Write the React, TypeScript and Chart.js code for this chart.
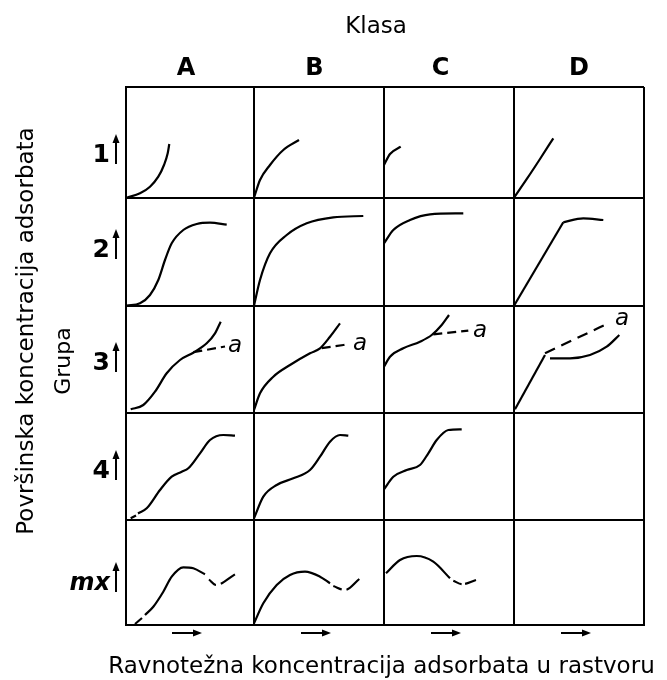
import { useEffect, useRef } from "react";
import { Chart, registerables } from "chart.js";

Chart.register(...registerables);

// ---- text ----
const CLASSES = ["A", "B", "C", "D"];
const GROUPS = ["1", "2", "3", "4", "mx"];
const TITLE_TOP = "Klasa";
const TITLE_LEFT = "Površinska koncentracija adsorbata";
const TITLE_GROUP = "Grupa";
const TITLE_BOTTOM = "Ravnotežna koncentracija adsorbata u rastvoru";
const BRANCH_LABEL = "a";

// ---- grid (axis units, 1 unit ~ 1 px) ----
const COL_EDGES = [0, 128, 258, 388, 518];
const ROW_EDGES = [0, 105, 211.5, 318.5, 426.5, 537.5]; // bottom -> top

// ---- curves, local coordinates inside each cell (dx from cell left, dy from cell bottom) ----
const c1A = [[0.7, 0.3], [14, 4.7], [24, 11.3], [32.3, 21.3], [38, 33], [41.7, 44.7], [43.3, 54]];
const c1B = [[0, 0.3], [6, 18], [16, 33], [29.3, 48], [45, 58]];
const c1C = [[0, 33], [6, 44], [16.7, 51.3]];
const c1D = [[0, 0.3], [13, 19.3], [26, 39], [39.3, 59.7]];

const c2A = [[0.7, 0.3], [14, 2.7], [24, 11], [32.3, 26], [39, 46], [45.7, 62.7], [57.3, 76], [70.7, 82], [84, 83.3], [100.7, 81.3]];
const c2B = [[0, 0.3], [6, 26], [16, 52.7], [32.7, 71], [52.7, 82.7], [79.3, 88.7], [109.3, 90]];
const c2C = [[0, 62.7], [9.3, 76], [26, 86], [46, 91.7], [79.3, 92.7]];
const c2Dline = [[0, 0.3], [49.3, 83.7]];
const c2Dtop = [[49.3, 83.7], [69.3, 87.7], [89.3, 86]];

const c3A = [[4.7, 3.7], [17.3, 8], [29, 21.3], [40.7, 39.7], [54, 53], [67.3, 60.3], [80.7, 69.7], [89, 79.7], [94.7, 91.3]];
const c3Aa = [[67.3, 60.8], [99, 66.5]];
const c3B = [[0, 3], [6, 19.7], [19.3, 36.3], [36, 48], [56, 59.7], [66, 64.7], [76, 76.3], [86, 89.7]];
const c3Ba = [[67.7, 64.9], [94.3, 68.7]];
const c3C = [[0, 46.3], [6, 56.3], [19.3, 64.7], [36, 71.3], [47.7, 78], [57.7, 88], [65, 98]];
const c3Ca = [[49.3, 78.7], [84.3, 82.3]];
const c3Dline = [[1, 3.7], [31, 58]];
const c3Dcurve = [[36, 54.7], [56, 54.7], [76, 58], [92.7, 66.3], [105.3, 78]];
const c3Da = [[31, 59.7], [92.7, 89]];

const c4Adash = [[4.7, 1.2], [10, 4]];
const c4A = [[12, 6], [20.7, 11.2], [34, 29.5], [45.7, 42.8], [55.7, 47.8], [62.3, 51.2], [74, 66.2], [84, 79.5], [97.3, 84.5], [109, 83.8]];
const c4B = [[0, 1.2], [9.3, 22.8], [22.7, 34.5], [39.3, 41.2], [56, 49.5], [66, 62.8], [76, 77.8], [86, 84.5], [94.3, 83.8]];
const c4C = [[0, 30.2], [9.3, 42.8], [22.7, 49.5], [36, 54.5], [44.3, 66.2], [52.7, 79.5], [64.3, 89.5], [77.7, 90.2]];

const cmAdash = [[9, 0.5], [16, 6.5]];
const cmA = [[19, 9.5], [27.3, 17.8], [37.3, 32.8], [45.7, 47.8], [57.3, 57.2], [67.3, 56.2], [79, 50.2]];
const cmAtail = [[83, 45], [90, 39.5], [109, 50.2]];
const cmB = [[0, 1.2], [9.3, 21.2], [22.7, 39.5], [36, 49.5], [51, 52.8], [66, 47.8], [76, 41.2]];
const cmBtail = [[79.3, 38.5], [91, 34.5], [105.3, 45.5]];
const cmC = [[2, 51.2], [16, 64.5], [32.7, 68.5], [49.3, 62.8], [66, 46.2]];
const cmCtail = [[69.3, 43.8], [78, 40.3], [92, 44.5]];

// positions of the "a" labels (local to cell)
const A_LABELS = [
  { col: 0, row: 2, at: [102, 61] },
  { col: 1, row: 2, at: [99, 63] },
  { col: 2, row: 2, at: [89, 76] },
  { col: 3, row: 2, at: [101, 88] },
];

type Curve = { col: number; row: number; pts: number[][]; kind: "smooth" | "straight" | "dash" | "tail"; dash?: number[] };

const CURVES: Curve[] = [
  { col: 0, row: 0, pts: c1A, kind: "smooth" },
  { col: 1, row: 0, pts: c1B, kind: "smooth" },
  { col: 2, row: 0, pts: c1C, kind: "smooth" },
  { col: 3, row: 0, pts: c1D, kind: "smooth" },
  { col: 0, row: 1, pts: c2A, kind: "smooth" },
  { col: 1, row: 1, pts: c2B, kind: "smooth" },
  { col: 2, row: 1, pts: c2C, kind: "smooth" },
  { col: 3, row: 1, pts: c2Dline, kind: "straight" },
  { col: 3, row: 1, pts: c2Dtop, kind: "smooth" },
  { col: 0, row: 2, pts: c3A, kind: "smooth" },
  { col: 0, row: 2, pts: c3Aa, kind: "dash", dash: [9, 5] },
  { col: 1, row: 2, pts: c3B, kind: "smooth" },
  { col: 1, row: 2, pts: c3Ba, kind: "dash", dash: [9, 5] },
  { col: 2, row: 2, pts: c3C, kind: "smooth" },
  { col: 2, row: 2, pts: c3Ca, kind: "dash", dash: [9, 5] },
  { col: 3, row: 2, pts: c3Dline, kind: "straight" },
  { col: 3, row: 2, pts: c3Dcurve, kind: "smooth" },
  { col: 3, row: 2, pts: c3Da, kind: "dash", dash: [11, 7] },
  { col: 0, row: 3, pts: c4Adash, kind: "straight" },
  { col: 0, row: 3, pts: c4A, kind: "smooth" },
  { col: 1, row: 3, pts: c4B, kind: "smooth" },
  { col: 2, row: 3, pts: c4C, kind: "smooth" },
  { col: 0, row: 4, pts: cmAdash, kind: "straight" },
  { col: 0, row: 4, pts: cmA, kind: "smooth" },
  { col: 0, row: 4, pts: cmAtail, kind: "tail", dash: [9, 5, 17, 100] },
  { col: 1, row: 4, pts: cmB, kind: "smooth" },
  { col: 1, row: 4, pts: cmBtail, kind: "tail", dash: [9, 5, 17, 100] },
  { col: 2, row: 4, pts: cmC, kind: "smooth" },
  { col: 2, row: 4, pts: cmCtail, kind: "tail", dash: [9, 3.5, 12, 100] },
];

const cellPoint = (col: number, row: number, p: number[]) => ({
  x: COL_EDGES[col] + p[0],
  y: ROW_EDGES[4 - row] + p[1],
});

const FONT = '"DejaVu Sans", Verdana, sans-serif';
const INK = "#000";

function arrowUp(ctx: CanvasRenderingContext2D, x: number, yb: number, len: number) {
  const yt = yb - len;
  ctx.lineWidth = 2;
  ctx.beginPath();
  ctx.moveTo(x, yb);
  ctx.lineTo(x, yt + 6);
  ctx.stroke();
  ctx.beginPath();
  ctx.moveTo(x, yt);
  ctx.lineTo(x - 3.5, yt + 9);
  ctx.lineTo(x + 3.5, yt + 9);
  ctx.closePath();
  ctx.fill();
}

function arrowRight(ctx: CanvasRenderingContext2D, xl: number, y: number, len: number) {
  const xr = xl + len;
  ctx.lineWidth = 2;
  ctx.beginPath();
  ctx.moveTo(xl, y);
  ctx.lineTo(xr - 6, y);
  ctx.stroke();
  ctx.beginPath();
  ctx.moveTo(xr, y);
  ctx.lineTo(xr - 9, y - 3.5);
  ctx.lineTo(xr - 9, y + 3.5);
  ctx.closePath();
  ctx.fill();
}

const annotations = {
  id: "annotations",
  afterDraw(chart: any) {
    const { ctx } = chart;
    const xs = chart.scales.x;
    const ys = chart.scales.y;
    ctx.save();
    ctx.fillStyle = INK;
    ctx.strokeStyle = INK;
    ctx.textBaseline = "alphabetic";

    // top title
    ctx.font = `23px ${FONT}`;
    ctx.textAlign = "center";
    ctx.fillText(TITLE_TOP, 376, 33);

    // class letters
    const classDx = [-4, -4.5, -8.5, 0];
    ctx.font = `bold 24px ${FONT}`;
    CLASSES.forEach((c, i) => {
      const cx = (xs.getPixelForValue(COL_EDGES[i]) + xs.getPixelForValue(COL_EDGES[i + 1])) / 2;
      ctx.fillText(c, cx + classDx[i], 75);
    });

    // bottom title
    ctx.font = `23px ${FONT}`;
    ctx.fillText(TITLE_BOTTOM, 381.5, 673);

    // bottom arrows
    for (let i = 0; i < 4; i++) {
      const cx = (xs.getPixelForValue(COL_EDGES[i]) + xs.getPixelForValue(COL_EDGES[i + 1])) / 2;
      arrowRight(ctx, cx - 18, 633, 30);
    }

    // left rotated titles
    ctx.save();
    ctx.translate(33, 331);
    ctx.rotate(-Math.PI / 2);
    ctx.font = `23px ${FONT}`;
    ctx.textAlign = "center";
    ctx.fillText(TITLE_LEFT, 0, 0);
    ctx.restore();

    ctx.save();
    ctx.translate(70, 361);
    ctx.rotate(-Math.PI / 2);
    ctx.font = `22px ${FONT}`;
    ctx.textAlign = "center";
    ctx.fillText(TITLE_GROUP, 0, 0);
    ctx.restore();

    // group labels + arrows
    const groupBaseline = [162, 257, 370, 478, 590];
    ctx.textAlign = "right";
    GROUPS.forEach((g, i) => {
      ctx.font = g === "mx" ? `italic bold 24px ${FONT}` : `bold 25px ${FONT}`;
      ctx.fillText(g, 110, groupBaseline[i]);
      arrowUp(ctx, 116, groupBaseline[i] + 2, 30);
    });

    // "a" labels
    ctx.font = `italic 23px ${FONT}`;
    ctx.textAlign = "left";
    A_LABELS.forEach((l) => {
      const p = cellPoint(l.col, l.row, l.at);
      ctx.fillText(BRANCH_LABEL, xs.getPixelForValue(p.x), ys.getPixelForValue(p.y));
    });

    ctx.restore();
  },
};

export default function App() {
  const ref = useRef<HTMLCanvasElement | null>(null);

  useEffect(() => {
    if (!ref.current) return;
    const datasets = CURVES.map((c) => ({
      data: c.pts.map((p) => cellPoint(c.col, c.row, p)),
      showLine: true,
      borderColor: INK,
      borderWidth: 2.2,
      pointRadius: 0,
      pointHoverRadius: 0,
      fill: false,
      tension: c.kind === "straight" ? 0 : 0.4,
      cubicInterpolationMode: (c.kind === "straight" ? "default" : "monotone") as any,
      borderDash: c.dash || [],
      borderCapStyle: "butt" as const,
      borderJoinStyle: "round" as const,
    }));

    const chart = new Chart(ref.current, {
      type: "scatter",
      data: { datasets },
      plugins: [annotations],
      options: {
        responsive: false,
        animation: false,
        events: [],
        layout: { padding: { left: 126, top: 87, right: 23, bottom: 55.5 } },
        plugins: { legend: { display: false }, tooltip: { enabled: false }, title: { display: false } },
        scales: {
          x: {
            type: "linear",
            min: 0,
            max: COL_EDGES[COL_EDGES.length - 1],
            afterBuildTicks: (s: any) => {
              s.ticks = COL_EDGES.map((v) => ({ value: v }));
            },
            ticks: { display: false },
            grid: { color: INK, lineWidth: 2, drawTicks: false },
            border: { display: true, color: INK, width: 2 },
          },
          y: {
            type: "linear",
            min: 0,
            max: ROW_EDGES[ROW_EDGES.length - 1],
            afterBuildTicks: (s: any) => {
              s.ticks = ROW_EDGES.map((v) => ({ value: v }));
            },
            ticks: { display: false },
            grid: { color: INK, lineWidth: 2, drawTicks: false },
            border: { display: true, color: INK, width: 2 },
          },
        },
      },
    });
    return () => chart.destroy();
  }, []);

  return (
    <div style={{ position: "absolute", left: 0, top: 0, width: 667, height: 680, background: "#fff" }}>
      <canvas ref={ref} width={667} height={680} style={{ display: "block" }} />
    </div>
  );
}
